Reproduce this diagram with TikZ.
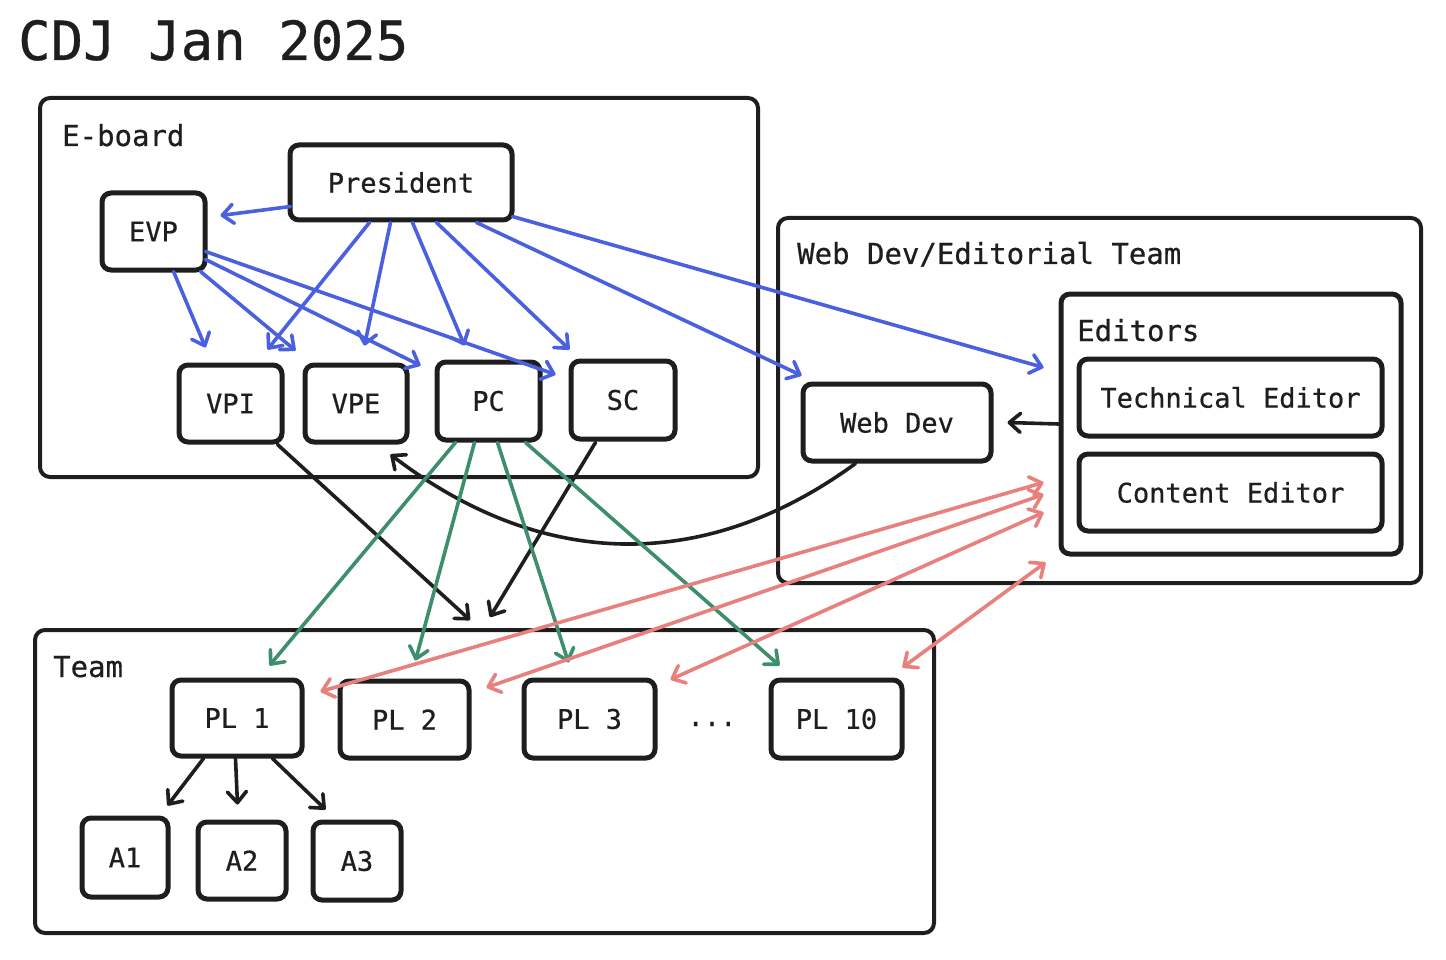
\documentclass[tikz,border=0pt]{standalone}
\usepackage{fontspec}
\usetikzlibrary{arrows.meta,calc}
\newfontfamily\monofam[FakeBold=0.6]{DejaVu Sans Mono}
\definecolor{ink}{HTML}{1E1E1E}
\definecolor{eblue}{HTML}{4A60DE}
\definecolor{egreen}{HTML}{3D8E6B}
\definecolor{ered}{HTML}{E8807D}
\begin{document}
\begin{tikzpicture}[x=1pt,y=-1pt,
  box/.style={draw=ink, line width=5pt, rounded corners=9pt, text=ink, inner sep=0pt,
    font=\monofam\fontsize{27}{32}\selectfont},
  frame/.style={draw=ink, line width=4pt, rounded corners=10pt, inner sep=0pt},
  grouplabel/.style={anchor=base west, text=ink, inner sep=0pt, font=\monofam\fontsize{29}{34}\selectfont},
  conn/.style={line width=3.6pt, line cap=round, line join=round,
    -{Straight Barb[length=11pt,width=19pt,round]}},
  bconn/.style={conn, draw=eblue},
  gconn/.style={conn, draw=egreen},
  kconn/.style={conn, draw=ink},
  rconn/.style={line width=3.6pt, line cap=round, draw=ered,
    {Straight Barb[length=11pt,width=19pt,round]}-{Straight Barb[length=11pt,width=19pt,round]}}
]
\useasboundingbox (0,0) rectangle (1446,960);

% title
\node[anchor=base west, inner sep=0pt, text=ink, font=\monofam\fontsize{54}{60}\selectfont] (title) at (18,60) {CDJ Jan 2025};

% frames
\node[frame, minimum width=718pt, minimum height=379pt] (eboard) at (399,287.5) {};
\node[frame, minimum width=643pt, minimum height=365pt] (wdframe) at (1099.5,400.5) {};
\node[frame, minimum width=899pt, minimum height=303pt] (team) at (484.5,781.5) {};
\node[box, minimum width=340pt, minimum height=260pt] (editors) at (1231,424) {};

% frame labels
\node[grouplabel] (lblE) at (62,146) {E-board};
\node[grouplabel] (lblW) at (797,264) {Web Dev/Editorial Team};
\node[grouplabel] (lblEd) at (1077,341) {Editors};
\node[grouplabel] (lblT) at (53,677) {Team};

% boxes
\node[box, minimum width=222pt, minimum height=75pt] (pres) at (401,182.5) {President};
\node[box, minimum width=103pt, minimum height=77pt] (evp) at (153.5,231.5) {EVP};
\node[box, minimum width=103pt, minimum height=77pt] (vpi) at (230.5,403.5) {VPI};
\node[box, minimum width=102pt, minimum height=77pt] (vpe) at (356,403.5) {VPE};
\node[box, minimum width=103pt, minimum height=78pt] (pc) at (488.5,401) {PC};
\node[box, minimum width=104pt, minimum height=78pt] (sc) at (623,400) {SC};
\node[box, minimum width=188pt, minimum height=77pt] (webdev) at (897,422.5) {Web Dev};
\node[box, minimum width=303pt, minimum height=77pt] (tech) at (1230.5,397.5) {Technical Editor};
\node[box, minimum width=303pt, minimum height=77pt] (content) at (1230.5,492.5) {Content Editor};
\node[box, minimum width=130pt, minimum height=76pt] (pl1) at (237,718) {PL 1};
\node[box, minimum width=129pt, minimum height=77pt] (pl2) at (404.5,719.5) {PL 2};
\node[box, minimum width=131pt, minimum height=78pt] (pl3) at (589.5,719) {PL 3};
\node[box, minimum width=131pt, minimum height=78pt] (pl10) at (836.5,719) {PL 10};
\node[anchor=base, inner sep=0pt, text=ink, font=\monofam\fontsize{27}{32}\selectfont] (dots) at (712,726) {...};
\node[box, minimum width=86pt, minimum height=79pt] (a1) at (125,857.5) {A1};
\node[box, minimum width=88pt, minimum height=77pt] (a2) at (242,860.5) {A2};
\node[box, minimum width=88pt, minimum height=78pt] (a3) at (357,861) {A3};

\coordinate (teamin1) at (470,620);
\coordinate (teamin2) at (490,617);

% blue connectors
\draw[bconn] ($(pres.south west)+(3,-16)$) -- ($(evp.north east)+(13,25)$);
\draw[bconn] ($(pres.south west)+(82,0)$) -- ($(vpi.north west)+(91,-13)$);
\draw[bconn] ($(pres.south west)+(103,0)$) -- ($(vpe.north west)+(62,-17)$);
\draw[bconn] ($(pres.south west)+(125,0)$) -- ($(pc.north west)+(30,-14)$);
\draw[bconn] ($(pres.south west)+(149,0)$) -- ($(sc.north west)+(1,-9)$);
\draw[bconn] ($(pres.south west)+(189,0)$) -- ($(webdev.north west)+(1,-6)$);
\draw[bconn] ($(pres.south east)+(-2,-6)$) -- ($(editors.north west)+(-15,76)$);
\draw[bconn] ($(evp.south east)+(-34,-1)$) -- ($(vpi.north west)+(29,-15)$);
\draw[bconn] ($(evp.south east)+(-7,-1)$) -- ($(vpe.north west)+(-7,-12)$);
\draw[bconn] ($(evp.south east)+(-2,-13)$) -- ($(pc.north west)+(-14,6)$);
\draw[bconn] ($(evp.south east)+(-2,-21)$) -- ($(sc.north west)+(-13,16)$);

% black connectors
\draw[kconn] ($(vpi.south east)+(-7,0)$) -- (teamin1);
\draw[kconn] ($(sc.south west)+(27,1)$) -- (teamin2);
\draw[kconn] ($(webdev.south west)+(55,0)$) .. controls (707,572) and (544,572) .. ($(vpe.south east)+(-19,10)$);
\draw[kconn] (editors.west) -- ($(webdev.east)+(14,0)$);
\draw[kconn] ($(pl1.south west)+(34,0)$) -- ($(a1.north east)+(-3,-10)$);
\draw[kconn] ($(pl1.south west)+(66,0)$) -- ($(a2.north west)+(42,-15)$);
\draw[kconn] ($(pl1.south west)+(103,0)$) -- ($(a3.north west)+(15,-10)$);

% green connectors
\draw[gconn] ($(pc.south west)+(21,0)$) -- ($(pl1.north west)+(100,-12)$);
\draw[gconn] ($(pc.south west)+(40,0)$) -- ($(pl2.north west)+(78,-18)$);
\draw[gconn] ($(pc.south west)+(63,0)$) -- ($(pl3.north west)+(47,-15)$);
\draw[gconn] ($(pc.south west)+(91,0)$) -- ($(pl10.north west)+(11,-12)$);

% red connectors
\draw[rconn] ($(pl1.north east)+(16,14)$) -- ($(editors.south west)+(-15,-74)$);
\draw[rconn] ($(pl2.north east)+(15,9)$) -- ($(editors.south west)+(-15,-62)$);
\draw[rconn] ($(pl3.north east)+(13,2)$) -- ($(editors.south west)+(-15,-44)$);
\draw[rconn] ($(pl10.north east)+(-2,-10)$) -- ($(editors.south west)+(-13,6)$);
\end{tikzpicture}
\end{document}
